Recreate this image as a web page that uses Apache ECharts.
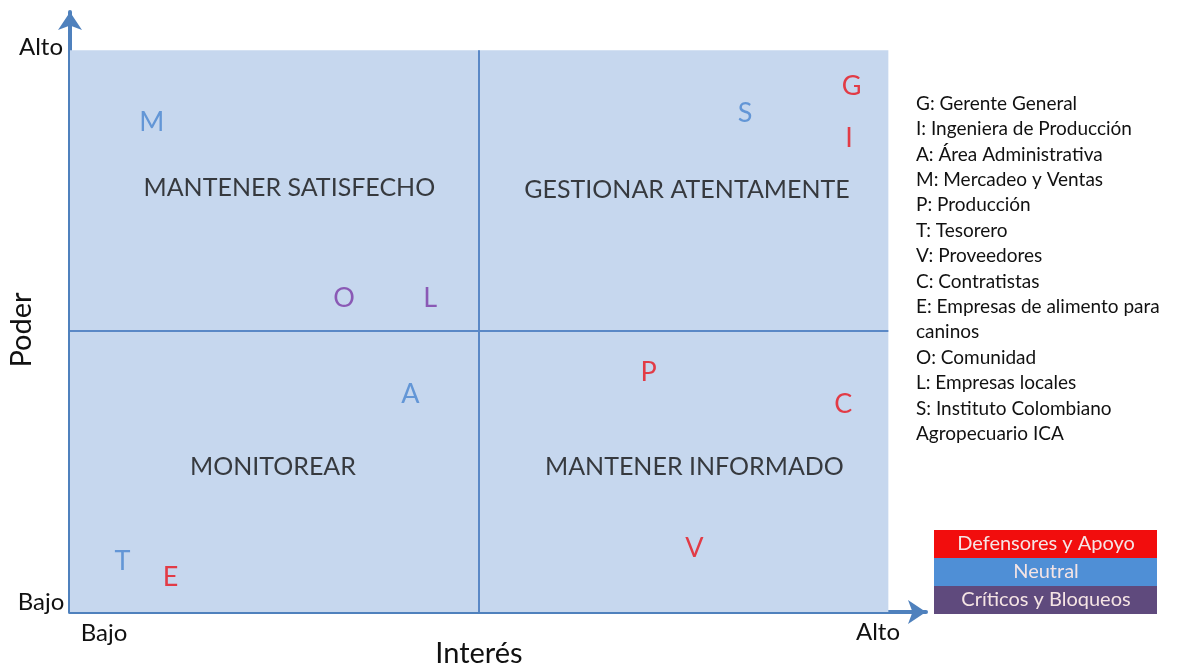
<!DOCTYPE html>
<html>
<head>
<meta charset="utf-8">
<script src="https://cdn.jsdelivr.net/npm/echarts@6/dist/echarts.min.js"></script>
<style>
  html, body { margin: 0; padding: 0; background: #fff; }
  #chart { width: 1178px; height: 668px; }
</style>
</head>
<body>
<div id="chart"></div>
<script>
// stakeholder letters: [interes, poder, letra]
const apoyo = [[9.55, 9.36, 'G'], [9.52, 8.43, 'I'], [7.07, 4.27, 'P'], [9.45, 3.70, 'C'], [7.63, 1.14, 'V'], [1.23, 0.62, 'E']]
const neutral = [[1.00, 8.72, 'M'], [8.25, 8.88, 'S'], [4.16, 3.88, 'A'], [0.64, 0.91, 'T']]
const criticos = [[3.35, 5.59, 'O'], [4.40, 5.59, 'L']]
const cuadrantes = [[2.68, 7.54, 'MANTENER SATISFECHO'], [7.54, 7.51, 'GESTIONAR ATENTAMENTE'], [2.48, 2.58, 'MONITOREAR'], [7.63, 2.58, 'MANTENER INFORMADO']]
const leyenda = [
  'G: Gerente General', 'I: Ingeniera de Producción', 'A: Área Administrativa', 'M: Mercadeo y Ventas',
  'P: Producción', 'T: Tesorero', 'V: Proveedores', 'C: Contratistas', 'E: Empresas de alimento para',
  'caninos', 'O: Comunidad', 'L: Empresas locales', 'S: Instituto Colombiano', 'Agropecuario ICA'
]
const grupos = [['Defensores y Apoyo', '#f20d0d'], ['Neutral', '#4f8fd6'], ['Críticos y Bloqueos', '#5f4a7d']]
const limite = 10
const medio = 5

const font = 'Lato, "Open Sans", sans-serif'
const myecharts = echarts.init(document.getElementById('chart'))

function letras(data, color) {
  return {
    type: 'scatter',
    data: data,
    symbolSize: 1,
    itemStyle: { color: 'rgba(0,0,0,0)' },
    label: {
      show: true, position: 'inside', formatter: p => p.data[2],
      color: color, fontSize: 27, fontFamily: font
    },
    z: 5
  }
}

const cajas = []
grupos.forEach((g, i) => {
  cajas.push({ type: 'rect', shape: { x: 934, y: 530 + i * 28, width: 223, height: 28 }, style: { fill: g[1] } })
  cajas.push({
    type: 'text', x: 1046, y: 544 + i * 28,
    style: { text: g[0], fill: '#f5e4e4', font: '20px ' + font, align: 'center', verticalAlign: 'middle' }
  })
})

const option = {
  animation: false,
  grid: { left: 70, right: 252, top: 12, bottom: 56 },
  xAxis: {
    type: 'value', min: 0, max: 10.46,
    axisLine: { show: true, lineStyle: { color: '#4f81bd', width: 4 }, symbol: ['none', 'arrow'], symbolSize: [18, 18] },
    axisTick: { show: false }, axisLabel: { show: false }, splitLine: { show: false }
  },
  yAxis: {
    type: 'value', min: 0, max: 10.68,
    axisLine: { show: true, lineStyle: { color: '#4f81bd', width: 4 }, symbol: ['none', 'arrow'], symbolSize: [18, 18] },
    axisTick: { show: false }, axisLabel: { show: false }, splitLine: { show: false }
  },
  series: [
    {
      type: 'scatter', data: [], z: 1,
      markArea: {
        silent: true,
        itemStyle: { color: '#c6d7ee' },
        data: [[{ coord: [0, 0] }, { coord: [limite, limite] }]]
      },
      markLine: {
        silent: true, symbol: 'none',
        lineStyle: { color: '#5a88c6', width: 2, type: 'solid' },
        label: { show: false },
        data: [
          [{ coord: [medio, 0] }, { coord: [medio, limite] }],
          [{ coord: [0, medio] }, { coord: [limite, medio] }]
        ]
      }
    },
    {
      type: 'scatter', data: cuadrantes, symbolSize: 1,
      itemStyle: { color: 'rgba(0,0,0,0)' },
      label: { show: true, position: 'inside', formatter: p => p.data[2], color: '#111', fontSize: 25, fontFamily: font }
    },
    letras(apoyo, '#e8141c'),
    letras(neutral, '#4a86d0'),
    letras(criticos, '#7a3aa6')
  ],
  graphic: [
    { type: 'text', x: 41, y: 47, style: { text: 'Alto', font: '24px ' + font, fill: '#111', align: 'center', verticalAlign: 'middle' } },
    { type: 'text', x: 41, y: 602, style: { text: 'Bajo', font: '24px ' + font, fill: '#111', align: 'center', verticalAlign: 'middle' } },
    { type: 'text', x: 104, y: 633, style: { text: 'Bajo', font: '24px ' + font, fill: '#111', align: 'center', verticalAlign: 'middle' } },
    { type: 'text', x: 878, y: 632, style: { text: 'Alto', font: '24px ' + font, fill: '#111', align: 'center', verticalAlign: 'middle' } },
    { type: 'text', x: 479, y: 654, style: { text: 'Interés', font: '29px ' + font, fill: '#111', align: 'center', verticalAlign: 'middle' } },
    { type: 'text', x: 22, y: 330, rotation: Math.PI / 2, style: { text: 'Poder', font: '29px ' + font, fill: '#111', align: 'center', verticalAlign: 'middle' } },
    {
      type: 'text', x: 916, y: 91,
      style: { text: leyenda.join('\n'), font: '19px ' + font, fill: '#111', lineHeight: 25.4 }
    }
  ].concat(cajas)
}
myecharts.setOption(option)
</script>
</body>
</html>
